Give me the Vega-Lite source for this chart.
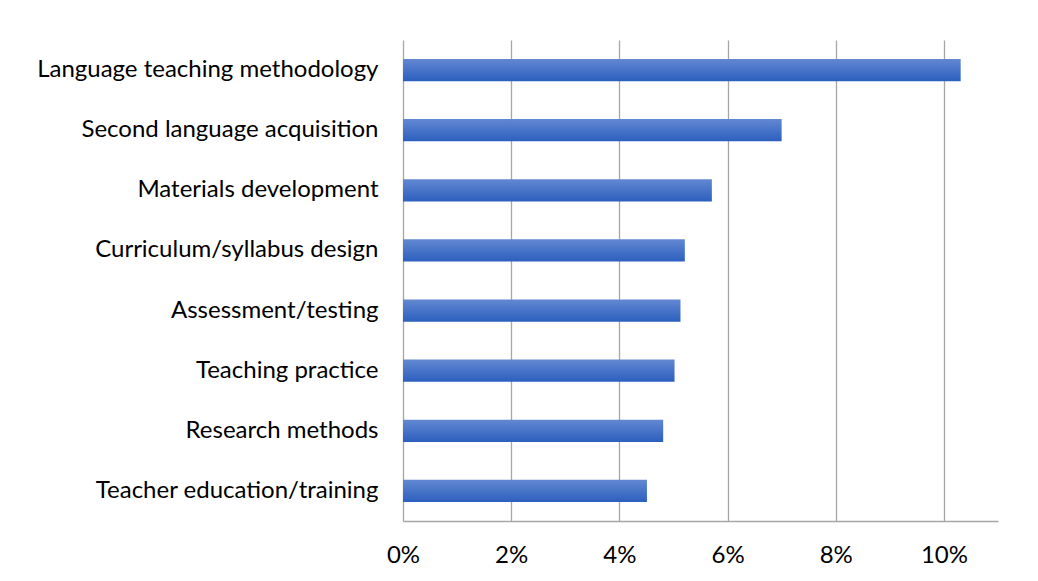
{
  "$schema": "https://vega.github.io/schema/vega-lite/v6.json",
  "width": 595,
  "height": 481,
  "autosize": {"type": "none"},
  "padding": {"left": 403, "top": 40, "right": 40, "bottom": 60},
  "background": "white",
  "config": {"view": {"stroke": null}, "font": "Lato"},
  "data": {
    "values": [
      {"topic": "Language teaching methodology", "share": 0.1031},
      {"topic": "Second language acquisition", "share": 0.0700},
      {"topic": "Materials development", "share": 0.0571},
      {"topic": "Curriculum/syllabus design", "share": 0.0521},
      {"topic": "Assessment/testing", "share": 0.0513},
      {"topic": "Teaching practice", "share": 0.0502},
      {"topic": "Research methods", "share": 0.0481},
      {"topic": "Teacher education/training", "share": 0.0451}
    ]
  },
  "mark": {
    "type": "bar",
    "color": {
      "gradient": "linear",
      "x1": 0, "y1": 0, "x2": 0, "y2": 1,
      "stops": [
        {"offset": 0, "color": "#6388d2"},
        {"offset": 1, "color": "#2c5fbe"}
      ]
    }
  },
  "encoding": {
    "y": {
      "field": "topic",
      "type": "nominal",
      "sort": null,
      "scale": {"paddingInner": 0.63, "paddingOuter": 0.315},
      "axis": {
        "title": null,
        "domain": false,
        "ticks": false,
        "labelFontSize": 24,
        "labelColor": "#000000",
        "labelPadding": 25,
        "labelLimit": 500
      }
    },
    "x": {
      "field": "share",
      "type": "quantitative",
      "scale": {"domain": [0, 0.11], "nice": false},
      "axis": {
        "title": null,
        "format": ".0%",
        "values": [0, 0.02, 0.04, 0.06, 0.08, 0.1],
        "ticks": false,
        "domainColor": "#a6a6a6",
        "domainWidth": 1.3,
        "gridColor": "#a6a6a6",
        "gridWidth": 1.3,
        "gridOpacity": 1,
        "labelFontSize": 24,
        "labelColor": "#000000",
        "labelPadding": 22,
        "labelFlush": false
      }
    }
  }
}
